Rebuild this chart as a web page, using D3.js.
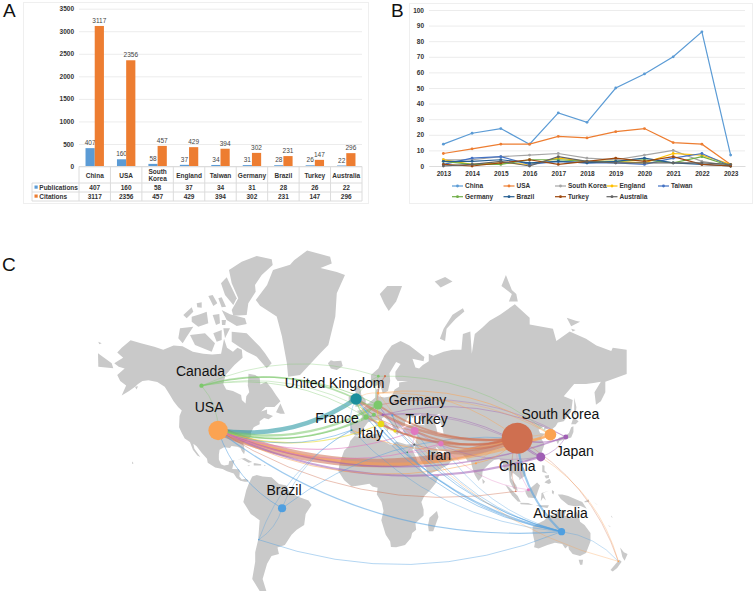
<!DOCTYPE html>
<html>
<head>
<meta charset="utf-8">
<script src="https://cdnjs.cloudflare.com/ajax/libs/d3/7.8.5/d3.min.js"></script>
<style>
  html, body { margin: 0; padding: 0; background: #fff; }
  svg { display: block; }
  text { font-family: "Liberation Sans", Arial, sans-serif; }
</style>
</head>
<body>
<div id="chart"></div>
<script>
// panel A data
const countries = ['China', 'USA', 'South Korea', 'England', 'Taiwan', 'Germany', 'Brazil', 'Turkey', 'Australia'];
const publications = [407, 160, 58, 37, 34, 31, 28, 26, 22];
const citations = [3117, 2356, 457, 429, 394, 302, 231, 147, 296];
const barTicks = [0, 500, 1000, 1500, 2000, 2500, 3000, 3500];

// panel B data
const years = [2013, 2014, 2015, 2016, 2017, 2018, 2019, 2020, 2021, 2022, 2023];
const lineTicks = [0, 10, 20, 30, 40, 50, 60, 70, 80, 90, 100];
const chinaByYear = [14, 21, 24, 14, 34, 28, 50, 59, 70, 86, 7];
const usaByYear = [8, 11, 14, 14, 19, 18, 22, 24, 15, 14, 1];
const koreaByYear = [4, 4, 6, 7, 8, 5, 4, 7, 10, 3, 0];
const englandByYear = [4, 1, 2, 1, 5, 3, 3, 2, 8, 7, 1];
const taiwanByYear = [1, 5, 6, 1, 3, 2, 2, 1, 5, 8, 0];
const germanyByYear = [3, 1, 1, 4, 4, 3, 3, 4, 2, 6, 0];
const brazilByYear = [3, 3, 4, 2, 3, 2, 3, 5, 2, 1, 0];
const turkeyByYear = [1, 0, 2, 4, 1, 3, 5, 3, 6, 1, 0];
const australiaByYear = [0, 1, 3, 0, 6, 3, 2, 2, 2, 2, 1];
const lineSeries = [chinaByYear, usaByYear, koreaByYear, englandByYear, taiwanByYear,
                    germanyByYear, brazilByYear, turkeyByYear, australiaByYear];
const lineColors = ['#5b9bd5', '#ed7d31', '#a5a5a5', '#ffc000', '#4472c4', '#70ad47', '#255e91', '#9e480e', '#636363'];

// panel C data: [name, lon, lat, publications, colour group]
const mapNodes = [
  ['China', 103.6, 34.6, 407, 'red'], ['USA', -98, 38.8, 160, 'orange'],
  ['South Korea', 126, 36.6, 58, 'orange'], ['United Kingdom', -5, 53.4, 55, 'teal'],
  ['Germany', 9.8, 50.9, 34, 'green'], ['Taiwan', 119.5, 23.6, 34, 'purple'],
  ['Brazil', -54.9, -10.2, 28, 'blue'], ['Turkey', 34.5, 38.5, 26, 'pink'],
  ['Australia', 133.5, -25.2, 22, 'blue'], ['Italy', 11.8, 42.1, 18, 'yellow'],
  ['Iran', 52.2, 31.5, 12, 'pink'], ['France', 1.7, 45.5, 12, 'green'],
  ['Japan', 136.4, 35.3, 10, 'purple'], ['Canada', -109.2, 58.4, 8, 'green'],
  ['Switzerland', 7, 46.6, 7, 'green'], ['Greece', 21.2, 38.5, 4, 'yellow'],
  ['Indonesia', 111.2, 2.2, 4, 'pink'], ['Denmark', 9.8, 55.7, 2.5, 'orange'],
  ['Sweden', 10, 61.6, 3, 'green'], ['Finland', 14.5, 61.6, 2, 'red'],
  ['Austria', 13, 46.6, 2.5, 'purple'], ['Hungary', 19.4, 46.3, 2, 'blue'],
  ['Spain', -8, 39, 1.5, 'teal'], ['India', 75.8, 19.6, 2, 'orange'],
  ['Israel', 34.2, 31, 2, 'grey'], ['Egypt', 29.5, 26.4, 1, 'darkgreen'],
  ['New Zealand', 171.8, -41.8, 1, 'orange'], ['Malaysia', 102.7, 1.1, 1, 'red'],
  ['Chile', -70.6, -30, 0.7, 'blue']
];
const groupColors = {red: '#cf6f50', orange: '#fba352', teal: '#1a8f9c', green: '#7cc86b', purple: '#a05fb4',
                     blue: '#4f9fe0', pink: '#e079c0', yellow: '#e9d916', grey: '#666666', darkgreen: '#1f9c5a'};

// [from, to, weight, colour group], every arc bows to the right of its travel direction
const mapLinks = [
  ['USA', 'China', 80, 'red'], ['USA', 'United Kingdom', 28, 'teal'], ['USA', 'South Korea', 14, 'orange'],
  ['USA', 'Germany', 10, 'green'], ['USA', 'France', 6, 'green'], ['USA', 'Switzerland', 3, 'green'],
  ['USA', 'Italy', 3, 'yellow'], ['USA', 'Spain', 2, 'blue'], ['USA', 'Taiwan', 8, 'purple'],
  ['USA', 'Japan', 4, 'purple'], ['USA', 'Turkey', 3, 'pink'], ['USA', 'Iran', 3, 'pink'],
  ['USA', 'India', 2, 'orange'], ['USA', 'Malaysia', 1.5, 'red'], ['USA', 'Australia', 3, 'blue'],
  ['USA', 'Brazil', 2, 'blue'], ['USA', 'Canada', 1, 'green'],
  ['United Kingdom', 'Canada', 5, 'green'], ['Germany', 'Canada', 2, 'green'], ['France', 'Canada', 1.2, 'green'],
  ['Sweden', 'Canada', 1, 'green'], ['Switzerland', 'Canada', 1, 'green'],
  ['Chile', 'Australia', 1.5, 'blue'], ['Chile', 'Brazil', 1, 'blue'], ['Spain', 'Chile', 1, 'blue'],
  ['Spain', 'Brazil', 1, 'blue'], ['China', 'Brazil', 1.5, 'blue'],
  ['China', 'Australia', 8, 'blue'], ['United Kingdom', 'Australia', 4, 'blue'], ['Germany', 'Australia', 2, 'blue'],
  ['France', 'Australia', 2, 'blue'], ['Italy', 'Australia', 2, 'blue'], ['Spain', 'Australia', 1.2, 'blue'],
  ['Hungary', 'Australia', 1.2, 'blue'], ['Turkey', 'Australia', 1.2, 'blue'], ['Iran', 'Australia', 1, 'blue'],
  ['New Zealand', 'Australia', 1, 'blue'], ['Denmark', 'New Zealand', 1, 'orange'],
  ['New Zealand', 'China', 1, 'red'], ['New Zealand', 'Taiwan', 1, 'orange'],
  ['United Kingdom', 'China', 12, 'red'], ['Germany', 'China', 7, 'red'], ['France', 'China', 5, 'red'],
  ['Italy', 'China', 5, 'red'], ['Turkey', 'China', 7, 'red'], ['Iran', 'China', 5, 'red'],
  ['Israel', 'China', 1.5, 'red'], ['Spain', 'China', 2, 'orange'], ['India', 'China', 2, 'orange'],
  ['China', 'South Korea', 8, 'orange'], ['China', 'Japan', 4, 'purple'], ['China', 'Taiwan', 3, 'purple'],
  ['Taiwan', 'Japan', 1.5, 'purple'], ['Japan', 'Austria', 1.5, 'purple'], ['Taiwan', 'Austria', 1.5, 'purple'],
  ['Japan', 'Germany', 1, 'purple'], ['Taiwan', 'France', 1, 'purple'], ['Turkey', 'Taiwan', 1, 'purple'],
  ['South Korea', 'Denmark', 2, 'orange'], ['China', 'Denmark', 1.5, 'orange'], ['South Korea', 'Germany', 1, 'orange'],
  ['South Korea', 'Sweden', 1, 'green'], ['South Korea', 'India', 1, 'orange'],
  ['Iran', 'Indonesia', 1, 'pink'], ['China', 'Indonesia', 1, 'pink'], ['China', 'Malaysia', 1, 'red'],
  ['Malaysia', 'Indonesia', 0.8, 'pink'], ['Egypt', 'Turkey', 1, 'pink'], ['Egypt', 'Iran', 1, 'pink'],
  ['United Kingdom', 'Germany', 3, 'green'], ['United Kingdom', 'France', 3, 'green'], ['Germany', 'France', 2, 'green'],
  ['United Kingdom', 'Italy', 2, 'yellow'], ['United Kingdom', 'Spain', 1, 'blue'], ['United Kingdom', 'Turkey', 2, 'red'],
  ['Germany', 'Turkey', 2, 'pink'], ['Germany', 'Italy', 1.5, 'yellow'], ['Denmark', 'United Kingdom', 1, 'orange'],
  ['Denmark', 'Germany', 1, 'orange'], ['Sweden', 'United Kingdom', 1, 'green'], ['Sweden', 'Germany', 1, 'green'],
  ['Finland', 'Germany', 1, 'red'], ['Finland', 'Denmark', 1, 'red'], ['Italy', 'Greece', 1, 'yellow'],
  ['Italy', 'Turkey', 1, 'pink'], ['Switzerland', 'Turkey', 1, 'pink'], ['Hungary', 'Israel', 1, 'grey']
];

// which nodes carry a label
const labelledNodes = ['Canada', 'USA', 'United Kingdom', 'Germany', 'France', 'Turkey', 'Italy',
                       'South Korea', 'Japan', 'Iran', 'China', 'Brazil', 'Australia'];

const landPolygons = [
  // north america
  [[-168,65.5],[-164,66.5],[-162,67],[-166,68.3],[-163,69.5],[-157,71.2],[-150,70.5],[-141,69.7],[-135,69],[-128,70],[-122,69.8],[-115,68.5],[-108,68],[-102,67.8],[-96,68],[-94,71.5],[-92,69.5],[-88,68.5],[-85,69.5],[-82,69],[-81.5,67],[-87,65],[-93,62],[-94.5,59],[-92.5,57],[-88,56.5],[-82.5,55],[-82,53],[-79.5,51.5],[-79,54.5],[-77,56],[-78,58.5],[-77.5,62.4],[-73,62],[-70,61],[-69.5,58.8],[-65.5,59.8],[-62,57.5],[-59,55],[-56,52.5],[-60,50],[-66,50],[-69,48],[-65,49],[-65,47],[-61,46],[-64,44.5],[-67,45],[-70,43.5],[-70,42],[-74,40.5],[-76,37.5],[-75.5,35.5],[-78,34],[-81,32],[-80,27],[-80.5,25.2],[-82,27],[-83,29],[-85,29.7],[-89,30.2],[-90,29],[-94,29.5],[-97,28],[-97.5,25],[-97.5,22],[-96,19],[-94,18.2],[-91,18.7],[-90.5,21],[-87,21.5],[-88,18],[-88.5,16],[-84,15.8],[-83.3,14.5],[-83.7,11],[-82,9],[-79.5,9.5],[-77.5,8.5],[-78,7.5],[-80,7.5],[-83,8.3],[-85.5,10],[-87.5,13],[-92,14.5],[-95,16],[-100,17],[-105,20],[-105.5,22.5],[-109,26],[-112.5,30],[-114.7,31.5],[-114,28.5],[-110,23.5],[-112,24.5],[-115,28],[-117,32.5],[-120.5,34.5],[-122.5,37.5],[-124.3,40.5],[-124,46],[-122.5,48.5],[-125,50],[-128,52.5],[-130.5,55],[-134,58],[-139,59.7],[-145,60.3],[-149,60],[-152,59],[-154,58],[-158,56.5],[-163,54.8],[-160,58.5],[-164,60],[-166,62],[-161,64],[-165,64.5]],
  // greenland
  [[-72.6,78.2],[-65,80.1],[-61,81.7],[-49.5,82.2],[-46.8,82.6],[-38,83.4],[-22.5,82.9],[-21.4,82.3],[-29,81.9],[-18,81.5],[-12.5,81.2],[-18,79.1],[-19,75.7],[-23.7,70.1],[-29,68.2],[-42.8,62],[-50.8,61.4],[-51.7,65.6],[-55,72],[-58.5,75.7],[-69.7,77.4]],
  // eurasia
  [[-9,38.7],[-9,43],[-2,43.5],[-1,46],[-4.5,48.4],[-1.5,48.7],[2,51],[4,52],[8,54],[8.5,57],[10.5,57.5],[10,54.5],[14,54],[19,54.5],[21,57],[24,58],[24,59.5],[30,60],[23,60],[21.5,61],[21.5,63],[25,65.3],[22,65.8],[17.5,62.5],[18,60],[16.5,56.5],[13,55.5],[11,59],[7,58],[5,60],[5,62],[10,64],[14,67.5],[19,70],[25,71],[31,70],[41,67.2],[40.5,66],[33,66.7],[35,64.3],[37.5,64],[40,65],[44,66],[44,68],[47,67.5],[54,68.5],[60,69],[66,69],[67,72.5],[72,73],[73,68],[75,72.5],[80,73.7],[85,75],[92,76],[102,77.6],[112,75.5],[112,74.3],[127.7,73.5],[130,71],[139,73],[150,71.5],[157,70],[167,68.7],[168,69.5],[177.4,69],[177.4,62.3],[170,61],[163,59.8],[163,56],[160,52.5],[156.7,51],[155.7,56],[160,59.8],[155,59.3],[150,59],[142,59],[135,54.5],[141,53],[140,48],[135,43.5],[131,42.8],[129.5,41],[127.5,39.7],[129.3,37],[129,35.2],[126.5,34.5],[126.5,37.5],[125,38.5],[125,40],[121.5,39],[122,41],[118,39.2],[119,37.5],[122.5,37],[119.5,35],[122,31],[120,26],[116,23],[110.5,21],[108,21.5],[106,19.5],[109,15],[109,11.5],[105,8.8],[105,10],[102,12.5],[100.5,13.5],[99.5,10],[103,5],[104,1.5],[101,3],[98.5,8],[98,15],[94.5,16],[94,19],[91.5,22.5],[88,21.7],[85,19.5],[80.3,15],[80,11],[77.5,8],[75,12],[73,18],[72.5,21],[70,21],[69,23],[67,25],[61,25.2],[57,25.7],[56,27],[51,28],[48.5,30],[50,27],[51.5,25],[51,24],[54,24.3],[56.3,26],[57,23.5],[60,22.3],[57,18.5],[52,16],[45,13],[43,12.7],[42.5,16],[39,21],[35,28],[34.5,29.5],[35,31.5],[36,36],[32,36],[28,36.7],[26.5,39],[29,41],[35,42],[41.5,41.5],[37,45],[39,47],[35,46],[33,45],[31,46.5],[28,43],[28,41.3],[26,40.8],[23,40.5],[24,38],[23,36.5],[21.5,37.5],[19.5,41],[19,42],[14,45.5],[12.5,45],[12.5,44],[16,41.8],[18.5,40],[16.5,39.5],[16,38],[15.5,40],[12.5,41.5],[10,44],[7,43.7],[3,43],[0,40],[-0.5,38.5],[-2,36.8],[-5.5,36],[-7,37],[-9,37.2]],
  // africa
  [[-6,35.8],[-2,35.2],[10,37.3],[11,33.5],[15,32.3],[19,30.5],[22,32.8],[29,31],[32.5,31.2],[34.5,31],[33,28],[36,22],[37.5,18],[39.5,15],[43,12],[44.5,10.5],[51,11.8],[49,7],[45,2],[41,-2],[39,-6],[40.5,-11],[40.5,-15],[35,-20],[35.5,-24],[32.8,-26],[32,-29],[28,-33],[22,-34.3],[18.5,-34.2],[18,-31],[15,-27],[12,-18],[13.5,-12],[12.2,-6],[9,-1],[9.5,3.5],[6,4.3],[4,6.3],[-3,5],[-8,4.4],[-13,8.5],[-17,14.7],[-16,20],[-13,27.5],[-10,30],[-9,33]],
  // south america
  [[-72,12],[-68,11],[-62,10.5],[-57,6],[-52,5],[-50,1],[-44,-2.5],[-37,-5],[-35,-8],[-39,-14],[-40,-21],[-45,-24],[-48.5,-27],[-53,-33],[-58,-34.5],[-57,-38],[-62,-39],[-65,-43],[-68,-50],[-65.5,-55],[-70,-55],[-75,-50],[-73,-42],[-73,-37],[-71,-30],[-70,-18],[-76,-14],[-81,-6],[-80,-2],[-79,2],[-77,7],[-75,11]],
  // australia and tasmania
  [[114,-22],[114,-26],[115.5,-32],[115,-34.3],[118,-35],[124,-33],[129,-31.7],[134,-32.5],[136,-35],[138,-33.5],[138.5,-35.5],[141,-38],[146,-39],[150,-37.5],[153,-31],[153,-26],[149,-21],[146,-19],[145,-15],[142.5,-11],[141.5,-17],[135.5,-15],[136.5,-12],[131,-12],[129,-15],[125,-14.5],[122,-18],[117,-20.5]],
  [[145,-41],[148,-41],[147.5,-43.5],[146,-43.5]],
  // new zealand
  [[173,-34.5],[175.5,-37],[178,-38],[176,-41.5],[174.5,-39.5]],
  [[172.5,-41],[174,-42],[171,-45],[168,-46.7],[166.5,-46],[170,-43]],
  // british isles, iceland, madagascar, sri lanka
  [[-5.5,50],[1.5,51],[1.5,53],[-1.5,55],[-2,57.5],[-4,58.5],[-6,57],[-4.5,54.5],[-3,53.5],[-5,52]],
  [[-10,52],[-6,52],[-6,55],[-8.5,55],[-10,54]],
  [[-24,65.5],[-22,64],[-18,63.5],[-14,64.7],[-15,66.2],[-20,66],[-22,66.3]],
  [[49.5,-12],[50.5,-16],[47,-25],[44,-25],[43.5,-21],[44.5,-16.5]],
  [[80,9.5],[82,7.5],[80.5,6]],
  // japan, sakhalin, taiwan, hainan
  [[130,33],[131,31.2],[132,33],[135,33.7],[140,35],[141.5,38],[141.5,41],[140,40.5],[138.5,37.5],[136,36],[132,35]],
  [[140,42],[141.5,45.3],[145,43.5],[143,42]],
  [[142,54],[143.5,50],[143,46.5],[142,47],[142,50]],
  [[121,25],[122,24.5],[120.8,22],[120,23]],
  [[109,20],[111,19.5],[109.5,18.2]],
  // philippines and indonesia
  [[120.5,18.5],[122,18],[122,15],[124,13],[120.5,14]],
  [[123,8],[125.5,9.5],[126.5,7],[125,6],[122,7]],
  [[122,11.5],[125,12],[125,10],[123,9.8]],
  [[109,1.5],[111,2],[114,4.5],[117,7],[119,5],[117.5,1],[116,-3.5],[111,-3],[109.5,-0.5]],
  [[95.5,5.5],[98,4],[104,-2],[106,-6],[104,-5.8],[100,-1.5]],
  [[105.5,-6.5],[111,-6.7],[114.5,-8],[106,-7.5]],
  [[116,-8.3],[120,-8.3],[125,-8.3],[124,-10],[119,-9.3]],
  [[119.5,-5.5],[120,0],[125,1.5],[121,0],[123,-5],[121,-3]],
  [[127,2],[128.5,1],[128,-1],[127,0]],
  [[131,-1],[134,-1],[138,-2],[145,-5],[147.5,-6],[150.5,-10.5],[146,-8.5],[143,-9],[138,-8],[133,-4]],
  [[149,-5.5],[152,-4.3],[152,-6],[149,-6.3]],
  [[155,-6],[157,-7.5],[160,-9],[158,-8]],
  [[165,-21],[167,-22.5],[165.5,-21.8]],
  [[167,-15],[168,-16.5],[167,-16]],
  // caribbean
  [[-85,22],[-80,23],[-75,20.5],[-77.5,20],[-82,22.3]],
  [[-74,19.8],[-69,19],[-69,18.3],[-74,18.2]],
  [[-78.3,18.4],[-76.4,18.2],[-77.3,17.8]],
  [[-67,18.5],[-65.7,18.3],[-67,17.9]],
  // newfoundland
  [[-59,47.7],[-56,51.5],[-53,47],[-56,47]],
  // arctic russia and svalbard
  [[11,79],[16,80],[26,80],[22,78],[17,76.6],[14,77.7]],
  [[51.5,71.5],[55,71],[56,73.5],[62,75.3],[68,76.5],[67,77],[60,76],[54,73.5]],
  [[48,80.5],[55,81],[60,80.5],[52,79.8]],
  [[93,80],[96,81.2],[100,79.5],[103,79],[104,78],[98,78],[100,79]],
  [[137,75.5],[143,75],[146,74.8],[140,74]],
  [[140,73.5],[143,73.3],[141,73]],
  // kodiak, hawaii
  [[-154,58],[-152,58.2],[-153,57]],
  [[-156,20.7],[-155,19.7],[-156,19.2]]
];
// arctic canada and the chukotka tip, traced directly on the drawing
const tracedLand = [
  [[229,270],[241.7,261.7],[256.7,256],[271.7,259.3],[272.7,265],[261.7,275],[255,285],[255.7,291.7],[248.3,303.3],[246.7,315],[233.3,315.7],[231.7,310],[238.3,298.3],[231.7,283.3]],
  [[221,283.3],[226.7,277.3],[236.7,298.3],[233.3,305],[225,295]],
  [[208.3,296],[212.7,295],[217.3,303.3],[213.3,306]],
  [[218.3,298.3],[221.7,297.3],[226,306.7],[221.7,307.3]],
  [[196.7,303.3],[201.7,302.3],[201.7,307.7],[197.3,307.3]],
  [[183.3,315],[191.7,307.3],[193.3,311.7],[186.7,318.3]],
  [[191.7,316.7],[200,314.3],[206.7,311.7],[208.3,323.3],[198.3,326.7],[191.7,321.7]],
  [[212.7,315],[219.3,314],[220,323.3],[216,325]],
  [[221.7,310],[230,314.3],[245,318.3],[246.7,324],[236.7,326],[226.7,320]],
  [[221.7,320],[226,320],[225.3,325],[222,325]],
  [[180,328.3],[193.3,326.7],[186.7,336.7],[182.7,343.3],[178.3,338.3]],
  [[190,335],[205,333.3],[215,343.3],[211.7,351.7],[195,345]],
  [[213.3,333.3],[221.7,330],[221.7,340],[216.7,341.7]],
  [[223.3,328.3],[230,328.3],[225,338.3]],
  [[231.7,331.7],[246.7,333.3],[260,346.7],[265,353.3],[271.7,363.3],[266.7,368.3],[256.7,356.7],[246.7,351.7],[231.7,341.7]],
  [[98,353.3],[111.7,363.3],[113.3,368.3],[98.3,366.7]],
  [[98.3,341.7],[101.7,343.3],[99.3,344.3]]
];
// inland water that shows white
const waterPolygons = [
  [[47,45.5],[51,47],[53,45],[51,44],[53,41],[54,37],[50,37],[49,40.5]]
];

const width = 753;
const height = 594;
const svg = d3.select('#chart').append('svg')
  .attr('width', width)
  .attr('height', height);

// panel letters
[['A', 3, 17], ['B', 391, 17], ['C', 2, 271]].forEach(d => {
  svg.append('text').attr('x', d[1]).attr('y', d[2]).attr('font-size', 19).attr('fill', '#111').text(d[0]);
});

const smallBold = sel => sel.attr('font-size', 6.5).attr('font-weight', 'bold').attr('fill', '#333');

//---------- panel A: bars with a data table underneath ----------
function drawBars() {
  const g = svg.append('g');
  g.append('rect').attr('x', 23.5).attr('y', 2.5).attr('width', 345).attr('height', 201)
    .attr('fill', 'none').attr('stroke', '#efefef');

  const x = d3.scaleBand().domain(countries).range([79, 362]);
  const y = d3.scaleLinear().domain([0, 3500]).range([166.5, 8.7]);
  const barW = 9.2;

  const yAxis = d3.axisLeft(y).tickValues(barTicks).tickSize(-283).tickPadding(5).tickFormat(d3.format('d'));
  const ax = g.append('g').attr('transform', 'translate(79,0)').call(yAxis);
  ax.select('.domain').remove();
  ax.selectAll('line').attr('stroke', '#ececec');
  ax.selectAll('text').call(smallBold);

  const series = [
    {name: 'Publications', values: publications, color: '#5b9bd5', off: -barW},
    {name: 'Citations', values: citations, color: '#ed7d31', off: 0}
  ];
  series.forEach(s => {
    g.selectAll(null).data(s.values).enter().append('rect')
      .attr('x', (d, i) => x(countries[i]) + x.bandwidth() / 2 + s.off)
      .attr('y', d => y(d))
      .attr('width', barW)
      .attr('height', d => y(0) - y(d))
      .attr('fill', s.color);
    g.selectAll(null).data(s.values).enter().append('text')
      .attr('x', (d, i) => x(countries[i]) + x.bandwidth() / 2 + s.off + barW / 2)
      .attr('y', d => y(d) - 3)
      .attr('text-anchor', 'middle')
      .attr('font-size', 6.5)
      .attr('fill', '#444')
      .text(d => d);
  });

  // table grid
  const rowY = [166.5, 183, 192, 201];
  const lineColor = '#dcdcdc';
  rowY.forEach((ry, i) => {
    g.append('line').attr('x1', i ? 32 : 79).attr('x2', 362).attr('y1', ry).attr('y2', ry).attr('stroke', lineColor);
  });
  g.append('line').attr('x1', 32).attr('x2', 32).attr('y1', 183).attr('y2', 201).attr('stroke', lineColor);
  d3.range(10).forEach(i => {
    const vx = 79 + i * x.step();
    g.append('line').attr('x1', vx).attr('x2', vx).attr('y1', 166.5).attr('y2', 201).attr('stroke', lineColor);
  });

  countries.forEach(c => {
    const cx = x(c) + x.bandwidth() / 2;
    const lines = c === 'South Korea' ? ['South', 'Korea'] : [c];
    lines.forEach((t, i) => {
      g.append('text').attr('x', cx).attr('y', lines.length > 1 ? 173.5 + i * 7.5 : 177.5)
        .attr('text-anchor', 'middle').call(smallBold).text(t);
    });
  });
  series.forEach((s, row) => {
    const ty = 190 + row * 9;
    g.append('rect').attr('x', 34.5).attr('y', ty - 4.5).attr('width', 3.2).attr('height', 3.2).attr('fill', s.color);
    g.append('text').attr('x', 39.3).attr('y', ty).call(smallBold).text(s.name);
    s.values.forEach((v, i) => {
      g.append('text').attr('x', x(countries[i]) + x.bandwidth() / 2).attr('y', ty)
        .attr('text-anchor', 'middle').call(smallBold).text(v);
    });
  });
}

//---------- panel B: yearly lines ----------
function drawLines() {
  const g = svg.append('g');
  g.append('rect').attr('x', 409.5).attr('y', 3.5).attr('width', 343).attr('height', 200)
    .attr('fill', 'none').attr('stroke', '#efefef');

  const x = d3.scalePoint().domain(years).range([429, 745]).padding(0.5);
  const y = d3.scaleLinear().domain([0, 100]).range([166, 10]);

  const yAxis = d3.axisLeft(y).tickValues(lineTicks).tickSize(-316).tickPadding(5);
  const ax = g.append('g').attr('transform', 'translate(429,0)').call(yAxis);
  ax.select('.domain').remove();
  ax.selectAll('line').attr('stroke', '#ececec');
  ax.selectAll('text').call(smallBold);

  const xAxis = d3.axisBottom(x).tickSize(0).tickPadding(5).tickFormat(d3.format('d'));
  const bx = g.append('g').attr('transform', 'translate(0,166)').call(xAxis);
  bx.select('.domain').attr('stroke', '#dcdcdc');
  bx.selectAll('text').call(smallBold);

  const line = d3.line().x((d, i) => x(years[i])).y(d => y(d));
  lineSeries.forEach((s, k) => {
    g.append('path').attr('d', line(s)).attr('fill', 'none')
      .attr('stroke', lineColors[k]).attr('stroke-width', 1.2);
    g.selectAll(null).data(s).enter().append('circle')
      .attr('cx', (d, i) => x(years[i]))
      .attr('cy', d => y(d))
      .attr('r', 1.4)
      .attr('fill', lineColors[k]);
  });

  // legend
  countries.forEach((name, i) => {
    const col = i < 5 ? i : i - 5;
    const lx = 452 + col * 51.5;
    const ly = i < 5 ? 186 : 196.7;
    g.append('line').attr('x1', lx).attr('x2', lx + 11).attr('y1', ly).attr('y2', ly)
      .attr('stroke', lineColors[i]).attr('stroke-width', 1.2);
    g.append('circle').attr('cx', lx + 5.5).attr('cy', ly).attr('r', 1.4).attr('fill', lineColors[i]);
    g.append('text').attr('x', lx + 13).attr('y', ly + 2.3).call(smallBold).text(name);
  });
}

//---------- panel C: collaboration map ----------
function drawMap() {
  const projection = d3.geoMercator().scale(85).translate([363.5, 493]).precision(0);
  const outline = d3.line().curve(d3.curveLinearClosed).x(d => projection(d)[0]).y(d => projection(d)[1]);
  const g = svg.append('g');

  g.selectAll('path.land').data(landPolygons).enter().append('path')
    .attr('class', 'land')
    .attr('d', outline)
    .attr('fill', '#c9c9c9');
  g.selectAll('path.traced').data(tracedLand).enter().append('path')
    .attr('class', 'traced')
    .attr('d', d3.line().curve(d3.curveLinearClosed))
    .attr('fill', '#c9c9c9');
  g.selectAll('path.water').data(waterPolygons).enter().append('path')
    .attr('class', 'water')
    .attr('d', outline)
    .attr('fill', '#fff');

  const byName = new Map(mapNodes.map(d => [d[0], d]));
  const pos = name => { const n = byName.get(name); return projection([n[1], n[2]]); };
  const radius = d3.scaleSqrt().domain([0, 407]).range([0, 15.5]);
  const linkWidth = d3.scalePow().exponent(0.6).domain([0, 80]).range([0, 8.5]);

  function arc(d) {
    const s = pos(d[0]), t = pos(d[1]);
    const dx = t[0] - s[0], dy = t[1] - s[1];
    const p = d3.path();
    p.moveTo(s[0], s[1]);
    p.quadraticCurveTo((s[0] + t[0]) / 2 - dy * 0.19, (s[1] + t[1]) / 2 + dx * 0.19, t[0], t[1]);
    return p.toString();
  }
  g.selectAll('path.link').data(mapLinks).enter().append('path')
    .attr('class', 'link')
    .attr('d', arc)
    .attr('fill', 'none')
    .attr('stroke', d => groupColors[d[3]])
    .attr('stroke-width', d => linkWidth(d[2]))
    .attr('stroke-opacity', 0.55);

  g.selectAll('circle').data(mapNodes).enter().append('circle')
    .attr('cx', d => projection([d[1], d[2]])[0])
    .attr('cy', d => projection([d[1], d[2]])[1])
    .attr('r', d => radius(d[3]))
    .attr('fill', d => groupColors[d[4]]);

  // labels sit at a fixed pixel offset from their node
  const labelOffset = {
    'Canada': [-1, -10], 'USA': [-9, -18], 'United Kingdom': [-21.5, -11], 'Germany': [39.5, 0],
    'France': [-29, 6], 'Turkey': [12, -7], 'Italy': [-10.5, 14], 'South Korea': [10, -16],
    'Japan': [9, 19], 'Iran': [-2, 16], 'China': [0, 33], 'Brazil': [2, -13], 'Australia': [-1, -14]
  };
  g.selectAll('text').data(labelledNodes).enter().append('text')
    .attr('x', d => pos(d)[0] + labelOffset[d][0])
    .attr('y', d => pos(d)[1] + labelOffset[d][1])
    .attr('text-anchor', 'middle')
    .attr('font-size', 14)
    .attr('fill', '#111')
    .text(d => d);
}

drawMap();
drawBars();
drawLines();
</script>
</body>
</html>
